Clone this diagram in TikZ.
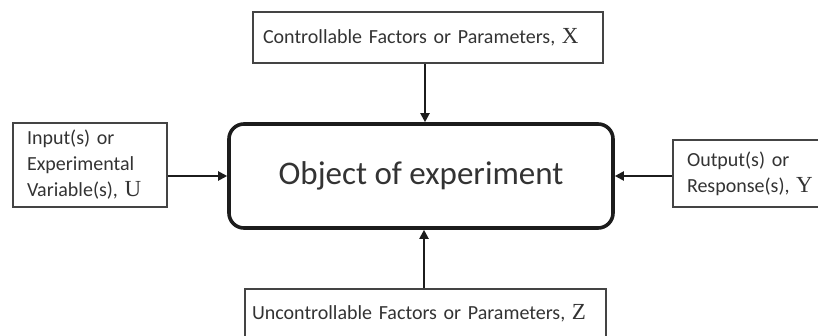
\documentclass[tikz,border=0pt]{standalone}
\usepackage{fontspec}
\setmainfont{Carlito}
\newfontfamily\varfont{Liberation Serif}
\usetikzlibrary{arrows.meta}
\definecolor{ink}{HTML}{333333}
\definecolor{frame}{HTML}{444444}
\definecolor{heavy}{HTML}{1C1C1C}
\newcommand{\var}[1]{{\varfont\fontsize{11.5}{13}\selectfont #1}}
\tikzset{
  factorbox/.style={draw=frame, line width=0.6pt, inner sep=0pt, align=left,
    text=ink, font=\fontsize{10}{13}\selectfont},
  objectbox/.style={draw=heavy, line width=1.8pt, rounded corners=7.5pt,
    inner sep=0pt, minimum width=192pt, minimum height=52pt, text=ink,
    font=\fontsize{16.5}{20}\selectfont},
  flow/.style={draw=heavy, line width=1pt,
    -{Triangle[length=4.5pt,width=4.5pt]}}
}
\begin{document}
\begin{tikzpicture}[x=0.5pt,y=-0.5pt]
\clip (0,0) rectangle (818,336);
\useasboundingbox (0,0) rectangle (818,336);

% central object
\node[objectbox] (obj) at (421,176) {Object of experiment};

% surrounding factor boxes
\node[factorbox, minimum width=175pt, minimum height=25.5pt, text width=165pt]
  (ctrl) at (428,37.5) {Controllable Factors or Parameters, \var{X}};
\node[factorbox, minimum width=77pt, minimum height=42pt, text width=63pt]
  (input) at (90,165) {Input(s) or\\Experimental\\Variable(s), \var{U}};
\node[factorbox, minimum width=83.5pt, minimum height=33.5pt, text width=69.5pt]
  (output) at (756.5,173.5) {Output(s) or\\Response(s), \var{Y}};
\node[factorbox, minimum width=180.5pt, minimum height=24.5pt, text width=173.5pt]
  (unctrl) at (425.5,313.5) {Uncontrollable Factors or Parameters, \var{Z}};

% connectors into the object
\draw[flow] (ctrl.south -| obj.north) ++(4,0) coordinate (c1) -- (c1 |- obj.north);
\draw[flow] (input.east |- obj.west) -- (obj.west);
\draw[flow] (output.west |- obj.east) -- (obj.east);
\draw[flow] (unctrl.north) ++(-1.5,0) coordinate (c2) -- (c2 |- obj.south);
\end{tikzpicture}
\end{document}
